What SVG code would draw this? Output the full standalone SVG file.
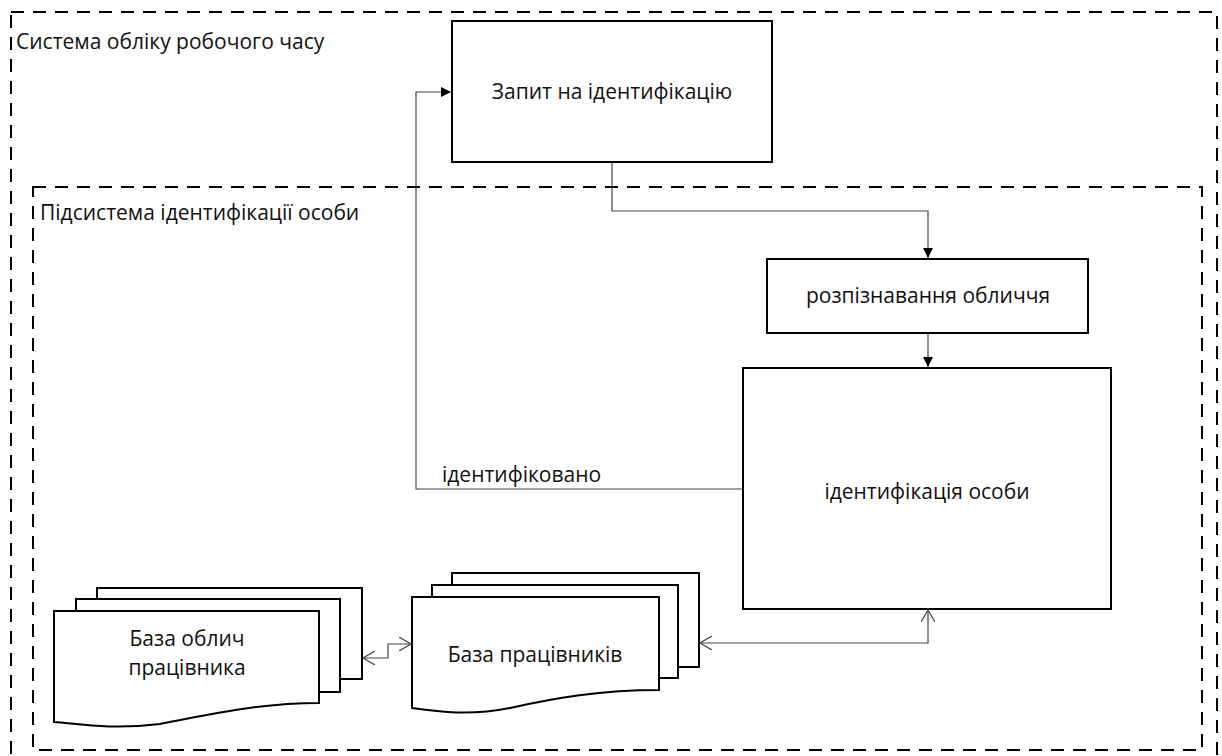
<svg xmlns="http://www.w3.org/2000/svg" width="1222" height="756" viewBox="0 0 1222 756">
  <style>
    .frame { fill: none; stroke: #000; stroke-width: 2; stroke-dasharray: 13 9; }
    .box { fill: #fff; stroke: #000; stroke-width: 2; }
    .wire { fill: none; stroke: #444; stroke-width: 1.2; }
    .lbl { font-family: "Open Sans", Lato, sans-serif; font-size: 21px; fill: #111; }
    .mid { text-anchor: middle; }
  </style>
  <defs>
    <marker id="solid" viewBox="0 0 10 10" refX="10" refY="5" markerWidth="10" markerHeight="10" markerUnits="userSpaceOnUse" orient="auto">
      <path d="M0,0 L10,5 L0,10 Z" fill="#000"/>
    </marker>
    <marker id="open" viewBox="0 0 12 14" refX="12" refY="7" markerWidth="12" markerHeight="14" markerUnits="userSpaceOnUse" orient="auto-start-reverse">
      <path d="M0,0 L12,7 L0,14" fill="none" stroke="#444" stroke-width="1.2"/>
    </marker>
  </defs>

  <rect width="1222" height="756" fill="#fff"/>

  <!-- system boundaries -->
  <g id="system">
    <rect class="frame" x="11" y="12" width="1206" height="760"/>
    <text class="lbl" x="16" y="49">Система обліку робочого часу</text>
  </g>
  <g id="subsystem">
    <rect class="frame" x="33" y="187" width="1169" height="563"/>
    <text class="lbl" x="40" y="220">Підсистема ідентифікації особи</text>
  </g>

  <!-- connectors -->
  <g id="connectors">
    <path class="wire" d="M612,162 V211 H928 V258" marker-end="url(#solid)"/>
    <path class="wire" d="M928,333 V367" marker-end="url(#solid)"/>
    <path class="wire" d="M743,489 H416 V92 H451" marker-end="url(#solid)"/>
    <path class="wire" d="M700,643 H928 V610" marker-start="url(#open)" marker-end="url(#open)"/>
    <path class="wire" d="M363,658 H388 V644 H411" marker-start="url(#open)" marker-end="url(#open)"/>
    <text class="lbl" x="442" y="482">ідентифіковано</text>
  </g>

  <g id="request">
    <rect class="box" x="452" y="21" width="320" height="141"/>
    <text class="lbl mid" x="612" y="99">Запит на ідентифікацію</text>
  </g>

  <g id="recognition">
    <rect class="box" x="767" y="259" width="321" height="74"/>
    <text class="lbl mid" x="928" y="303">розпізнавання обличчя</text>
  </g>

  <g id="identification">
    <rect class="box" x="743" y="368" width="368" height="241"/>
    <text class="lbl mid" x="927" y="499">ідентифікація особи</text>
  </g>

  <g id="faces-db">
    <rect class="box" x="97" y="588" width="265" height="91"/>
    <rect class="box" x="76" y="599" width="264" height="93"/>
    <path class="box" d="M54,611 H319 V703 C260,703 210,714 160,724 C110,730 80,724 54,722 Z"/>
    <text class="lbl mid" x="187" y="646">База облич</text>
    <text class="lbl mid" x="187" y="675">працівника</text>
  </g>

  <g id="staff-db">
    <rect class="box" x="452" y="573" width="247" height="94"/>
    <rect class="box" x="432" y="585" width="246" height="93"/>
    <path class="box" d="M412,597 H659 V690 C600,690 555,698 510,708 C470,716 440,712 412,708 Z"/>
    <text class="lbl mid" x="535" y="662">База працівників</text>
  </g>
</svg>
